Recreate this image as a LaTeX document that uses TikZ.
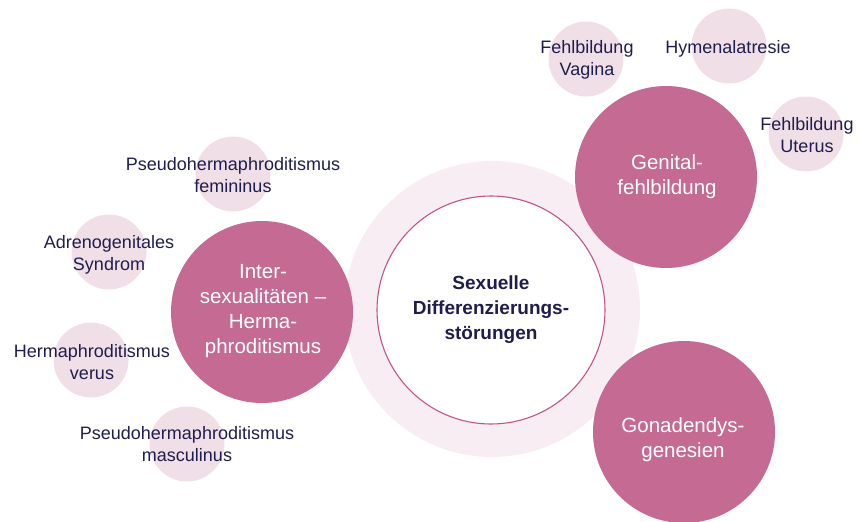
\documentclass[tikz,border=0pt]{standalone}
\usepackage{fontspec}
\setmainfont{Liberation Sans}
\definecolor{magentadark}{HTML}{C46A93}
\definecolor{palecirc}{HTML}{F1DFE8}
\definecolor{ringpale}{HTML}{F8EDF2}
\definecolor{innerline}{HTML}{C0558A}
\definecolor{navy}{HTML}{1F1D4B}
\begin{document}
\begin{tikzpicture}[x=1pt,y=-1pt,
  bigcirc/.style={circle,fill=magentadark,minimum size=182pt,inner sep=0pt},
  smallcirc/.style={circle,fill=palecirc,minimum size=75pt,inner sep=0pt},
  darklabel/.style={text=navy,align=center,font=\fontsize{18}{22}\selectfont,inner sep=0pt},
  whitelabel/.style={text=white,align=center,font=\fontsize{20.5}{25}\selectfont,inner sep=0pt},
  centerlabel/.style={text=navy,align=center,font=\fontsize{19}{25}\selectfont\bfseries,inner sep=0pt}]
\useasboundingbox (0,0) rectangle (860,522);
% central ring
\node[circle,fill=ringpale,minimum size=296pt,inner sep=0pt] (ring) at (492,309) {};
\node[circle,fill=white,draw=innerline,line width=1.1pt,minimum size=228pt,inner sep=0pt] (core) at (491,310) {};
\node[centerlabel] (coretext) at (core) {Sexuelle\\Differenzierungs-\\störungen};
% small pale circles
\node[smallcirc] (vag) at (586,59) {};
\node[smallcirc] (hym) at (729,46) {};
\node[smallcirc] (ute) at (806,134) {};
\node[smallcirc] (pfem) at (233,174) {};
\node[smallcirc] (adr) at (109,252) {};
\node[smallcirc] (hver) at (91,360) {};
\node[smallcirc] (pmas) at (187,444) {};
% big magenta circles
\node[bigcirc] (gen) at (666,177) {};
\node[bigcirc] (inter) at (262,312) {};
\node[bigcirc] (gon) at (684,432) {};
% labels
\node[whitelabel] (gentext) at (667,177) {Genital-\\fehlbildung};
\node[whitelabel] (intertext) at (263,311) {Inter-\\sexualitäten –\\Herma-\\phroditismus};
\node[whitelabel] (gontext) at (683,440) {Gonadendys-\\genesien};
\node[darklabel] (vagtext) at (587,60) {Fehlbildung\\Vagina};
\node[darklabel] (hymtext) at (728,49) {Hymenalatresie};
\node[darklabel] (utetext) at (807,135) {Fehlbildung\\Uterus};
\node[darklabel] (pfemtext) at (233,175) {Pseudohermaphroditismus\\femininus};
\node[darklabel] (adrtext) at (109,255) {Adrenogenitales\\Syndrom};
\node[darklabel] (hvertext) at (92,362) {Hermaphroditismus\\verus};
\node[darklabel] (pmastext) at (187,444) {Pseudohermaphroditismus\\masculinus};
\end{tikzpicture}
\end{document}
